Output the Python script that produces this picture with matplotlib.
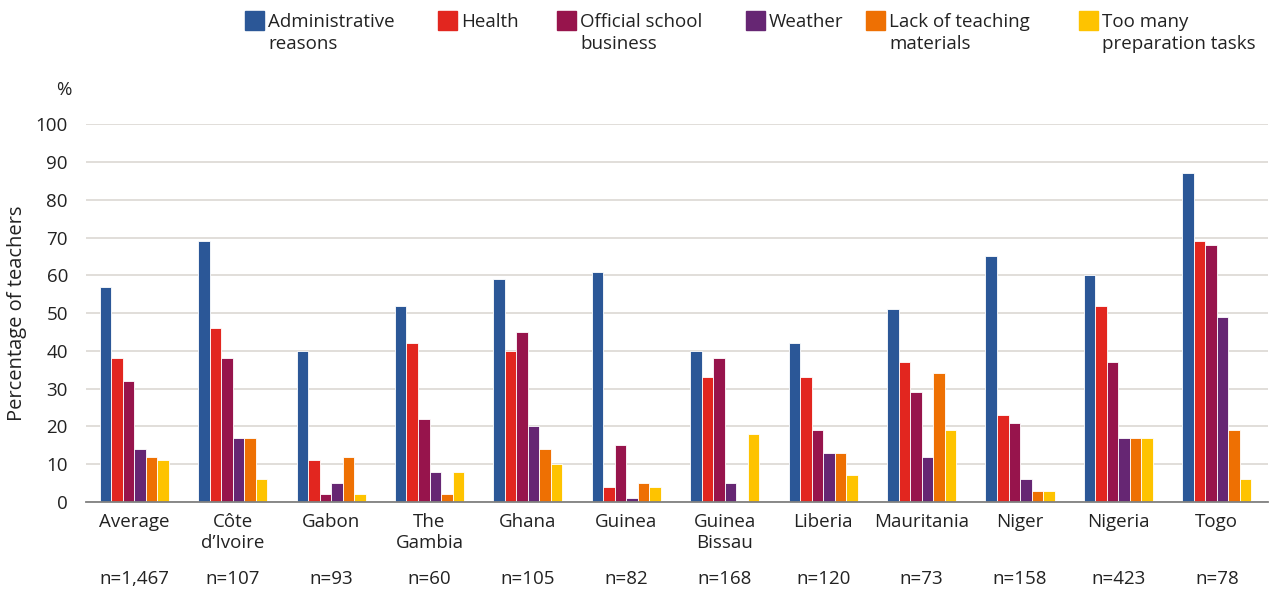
import matplotlib
matplotlib.use('Agg')
import numpy as np
import matplotlib.pyplot as plt
from matplotlib.patches import Rectangle

plt.rcParams['font.family'] = ['Open Sans', 'DejaVu Sans']

countries = ['Average', 'Côte\nd’Ivoire', 'Gabon', 'The\nGambia', 'Ghana', 'Guinea',
             'Guinea\nBissau', 'Liberia', 'Mauritania', 'Niger', 'Nigeria', 'Togo']
n_labels = ['n=1,467', 'n=107', 'n=93', 'n=60', 'n=105', 'n=82',
            'n=168', 'n=120', 'n=73', 'n=158', 'n=423', 'n=78']

series_names = ['Administrative\nreasons', 'Health', 'Official school\nbusiness', 'Weather',
                'Lack of teaching\nmaterials', 'Too many\npreparation tasks']
colors = ['#2b5797', '#e2261f', '#97144c', '#662673', '#ee7003', '#fec300']

admin = [57, 69, 40, 52, 59, 61, 40, 42, 51, 65, 60, 87]
health = [38, 46, 11, 42, 40, 4, 33, 33, 37, 23, 52, 69]
official = [32, 38, 2, 22, 45, 15, 38, 19, 29, 21, 37, 68]
weather = [14, 17, 5, 8, 20, 1, 5, 13, 12, 6, 17, 49]
materials = [12, 17, 12, 2, 14, 5, 0, 13, 34, 3, 17, 19]
prep = [11, 6, 2, 8, 10, 4, 18, 7, 19, 3, 17, 6]

all_series = [admin, health, official, weather, materials, prep]
text_col = '#222222'

fig = plt.figure(figsize=(12.88, 5.89), dpi=100)
ax = fig.add_axes([0.0668, 0.148, 0.9177, 0.641])

x = np.arange(len(countries))
w = 0.117
for i, vals in enumerate(all_series):
    ax.bar(x + (i - 2.5) * w, vals, width=w, color=colors[i],
           edgecolor='white', linewidth=0.6, zorder=3)

ax.set_ylim(0, 100)
ax.set_xlim(-0.49, 11.52)
ax.set_yticks(range(0, 101, 10))
ax.yaxis.grid(True, color='#dcd8d3', linewidth=1.2, zorder=0)
ax.set_axisbelow(True)
for s in ['top', 'right', 'left']:
    ax.spines[s].set_visible(False)
ax.spines['bottom'].set_color('#808080')
ax.spines['bottom'].set_linewidth(1.3)
ax.spines['bottom'].set_zorder(4)

ax.set_xticks(x)
ax.set_xticklabels(countries, fontsize=13.5, color=text_col, linespacing=1.2)
ax.tick_params(axis='x', length=0, pad=8)
ax.tick_params(axis='y', length=0, pad=13, labelsize=13.5, labelcolor=text_col)

for i, lab in enumerate(n_labels):
    ax.text(i, -0.205, lab, transform=ax.get_xaxis_transform(), ha='center', va='center',
            fontsize=13.5, color=text_col)

ax.set_ylabel('Percentage of teachers', fontsize=14.5, color=text_col)
ax.yaxis.set_label_coords(-0.05, 0.5)
fig.text(64 / 1288, 1 - 90 / 589, '%', ha='center', va='center', fontsize=13.5, color=text_col)

# legend across the top
sq_x = [245, 438, 557, 746, 866, 1079]
for i, name in enumerate(series_names):
    fig.patches.append(Rectangle((sq_x[i] / 1288, 1 - 30 / 589), 19 / 1288, 19 / 589,
                                 transform=fig.transFigure, color=colors[i]))
    fig.text((sq_x[i] + 23) / 1288, 1 - 13 / 589, name, ha='left', va='top',
             fontsize=13.5, color=text_col, linespacing=1.3)

fig.savefig('out.png', dpi=100)
